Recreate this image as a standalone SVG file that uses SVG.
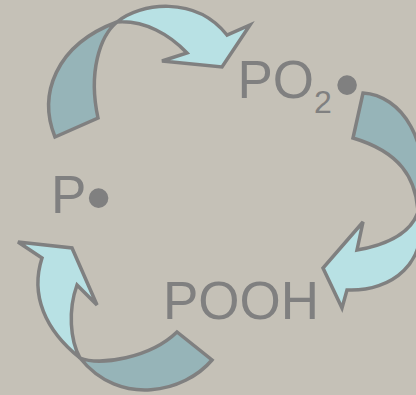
<svg xmlns="http://www.w3.org/2000/svg" width="416" height="395" viewBox="0 0 416 395">
<style>
.light{fill:#B8E1E4;stroke:#808080;stroke-width:3.5;stroke-linejoin:miter}
.dark{fill:#96B4B8;stroke:#808080;stroke-width:3.5;stroke-linejoin:miter}
.lbl{font-family:"Liberation Sans",Arial,sans-serif;fill:#808080;font-size:53px}
</style>
<rect width="416" height="395" fill="#C5C1B7"/>
<g id="connectors">
<g id="arrow-top">
<path class="dark" d="M55,137 C38,95 55,45 117,22 C100,36 88,72 98,118 Z"/>
<path class="light" d="M117,22 C140,3 195,-5 227,35 L250,25 L222,67 L162,61 L187,53 C170,35 145,20 117,22 Z"/>
</g>
<g id="arrow-right">
<path class="dark" d="M363,93 C400,95 435,140 418,212 C416,178 400,152 353,138 Z"/>
<path class="light" d="M418,212 C430,262 392,292 347,290 L342,308 L323,268 L363,222 L357,250 C385,245 410,235 418,212 Z"/>
</g>
<g id="arrow-bottom">
<path class="dark" d="M212,360 C185,392 120,408 80,358 C100,366 150,358 177,332 Z"/>
<path class="light" d="M80,358 C45,330 30,295 42,258 L18,242 L72,248 L97,305 L77,285 C68,310 70,340 80,358 Z"/>
</g>
</g>
<g id="node-PO2">
<text class="lbl" x="237.5" y="98">PO<tspan font-size="32" dy="15">2</tspan><tspan font-size="72" x="334.5" y="109">•</tspan></text>
</g>
<g id="node-P">
<text class="lbl" x="51" y="213">P<tspan font-size="72" x="86" y="222">•</tspan></text>
</g>
<g id="node-POOH">
<text class="lbl" x="163" y="319">POOH</text>
</g>
</svg>
